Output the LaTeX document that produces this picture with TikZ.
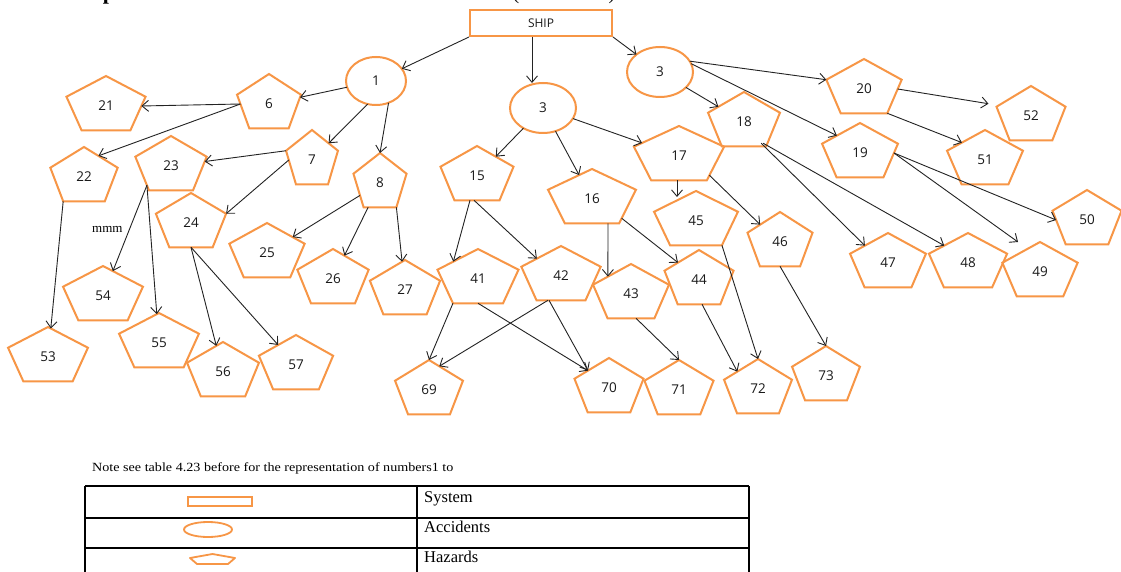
\documentclass[tikz,border=0pt]{standalone}
\usepackage{fontspec}
\setmainfont{Liberation Serif}
\newfontfamily\numfont{Open Sans}
\usetikzlibrary{shapes.geometric,arrows.meta,calc}
\definecolor{hzorange}{RGB}{247,150,70}
\definecolor{arrgray}{RGB}{35,35,35}
\tikzset{
  hz/.style={regular polygon, regular polygon sides=5, draw=hzorange, line width=2pt,
    minimum size=60pt, inner sep=0pt, outer sep=0pt, transform shape,
    font=\numfont\fontsize{13.5}{15}\selectfont, text=black!90},
  acc/.style={ellipse, draw=hzorange, line width=2pt, inner sep=0pt, outer sep=0pt,
    font=\numfont\fontsize{13.5}{15}\selectfont, text=black!90},
  sys/.style={rectangle, draw=hzorange, line width=2pt, minimum width=142pt, minimum height=26pt,
    inner sep=0pt, font=\numfont\fontsize{12}{14}\selectfont, text=black!90},
  arr/.style={draw=arrgray, line width=0.9pt, -{Straight Barb[length=6.5pt,width=11pt]}},
  legtxt/.style={anchor=base west, inner sep=0pt, font=\fontsize{16.5}{18}\selectfont},
  tabline/.style={draw=black, line width=1.2pt},
}
\newcommand\hzn[5]{\begin{scope}[shift={(#2,-#3)},xscale=#4]\node[hz] (#1) at (0,0) {\scalebox{\fpeval{round(1/#4,4)}}[1]{#5}};\end{scope}}
\begin{document}
\begin{tikzpicture}[x=1pt,y=1pt]
\useasboundingbox (0,0) rectangle (1121,-572);
\fill[white] (0,0) rectangle (1121,-572);
% cut-off heading fragments (only their lowest parts show, as in the reference)
\node[anchor=base, inner sep=0pt, font=\bfseries\fontsize{22}{24}\selectfont] (hp) at (109,0) {p};
\node[anchor=base, inner sep=0pt, font=\fontsize{20}{22}\selectfont] (hl) at (516,0) {(};
\node[anchor=base, inner sep=0pt, font=\fontsize{20}{22}\selectfont] (hr) at (612,0) {)};
% system and accidents
\node[sys] (ship) at (541,-23) {SHIP};
\node[acc, minimum width=60pt, minimum height=48pt] (a1) at (376,-81) {1};
\node[acc, minimum width=66pt, minimum height=50pt] (a3m) at (543,-108) {3};
\node[acc, minimum width=66pt, minimum height=50pt] (a3r) at (660,-72) {3};
% hazards
\hzn{n21}{106}{106}{1.386}{21}
\hzn{n6}{269}{104}{1.12}{6}
\hzn{n22}{84}{177}{1.18}{22}
\hzn{n23}{171}{166}{1.25}{23}
\hzn{n7}{312}{160}{0.91}{7}
\hzn{n8}{380}{183}{0.93}{8}
\hzn{n24}{191}{223}{1.23}{24}
\hzn{n25}{267}{253}{1.32}{25}
\hzn{n26}{333}{279}{1.25}{26}
\hzn{n27}{405}{290}{1.23}{27}
\hzn{n53}{48}{357}{1.40}{53}
\hzn{n54}{103}{296}{1.40}{54}
\hzn{n55}{159}{343}{1.40}{55}
\hzn{n56}{223}{372}{1.26}{56}
\hzn{n57}{296}{365}{1.30}{57}
\hzn{n15}{477}{176}{1.28}{15}
\hzn{n16}{592}{199}{1.54}{16}
\hzn{n17}{679}{156}{1.58}{17}
\hzn{n18}{744}{122}{1.26}{18}
\hzn{n45}{696}{221}{1.47}{45}
\hzn{n46}{780}{242}{1.14}{46}
\hzn{n41}{478}{279}{1.42}{41}
\hzn{n42}{561}{276}{1.39}{42}
\hzn{n43}{631}{294}{1.33}{43}
\hzn{n44}{699}{280}{1.21}{44}
\hzn{n69}{429}{390}{1.19}{69}
\hzn{n70}{609}{388}{1.21}{70}
\hzn{n71}{679}{390}{1.21}{71}
\hzn{n72}{758}{389}{1.19}{72}
\hzn{n73}{826}{376}{1.19}{73}
\hzn{n20}{864}{89}{1.32}{20}
\hzn{n52}{1031}{116}{1.21}{52}
\hzn{n19}{860}{153}{1.33}{19}
\hzn{n51}{985}{160}{1.33}{51}
\hzn{n50}{1087}{220}{1.21}{50}
\hzn{n47}{888}{263}{1.33}{47}
\hzn{n48}{968}{263}{1.37}{48}
\hzn{n49}{1040}{272}{1.32}{49}
\node[anchor=base west, inner sep=0pt, font=\fontsize{13}{15}\selectfont] (mmm) at (92,-233) {mmm};
% connectors
\draw[arr] (ship.south west) -- (a1);
\draw[arr] ([xshift=-9pt]ship.south) -- ([xshift=-11pt]a3m.north);
\draw[arr] (ship.south east) -- (a3r);
\draw[arr] (a1) -- (n6);
\draw[arr] (a1.250) -- (n7);
\draw[arr] (a1.300) -- (n8.corner 1);
\draw[arr] (n6.180) -- (n21.0);
\draw[arr] (n6.180) -- (n22.60);
\draw[arr] (n7.corner 2) -- (n23);
\draw[arr] (n7.180) -- (n24.corner 5);
\draw[arr] (n8) -- (n25);
\draw[arr] (n8) -- (n26);
\draw[arr] (n8.corner 4) -- (n27);
\draw[arr] (n22.corner 3) -- (n53);
\draw[arr] (n23.225) -- (n54);
\draw[arr] (n23.225) -- (n55);
\draw[arr] (n24.270) -- (n56);
\draw[arr] (n24.270) -- (n57);
\draw[arr] (a3m) -- (n15);
\draw[arr] (a3m) -- (n16);
\draw[arr] (a3m) -- (n17);
\draw[arr] ([xshift=-7pt]n15.270) -- (n41.135);
\draw[arr] ([xshift=-3pt]n15.270) -- (n42.135);
\draw[arr] ([xshift=16pt]n16.270) -- (n43.135);
\draw[arr] (n16.315) -- (n44.135);
\draw[arr] (n41.corner 3) -- (n69.corner 1);
\draw[arr] (n41.270) -- (n70.135);
\draw[arr] ([xshift=-13pt]n42.270) -- (n69.70);
\draw[arr] ([xshift=-12pt]n42.270) -- (n70.135);
\draw[arr] ([xshift=5pt]n43.270) -- (n71.corner 1);
\draw[arr] ([xshift=3pt]n44.270) -- (n72.135);
\draw[arr] (n45.corner 4) -- (n72.corner 1);
\draw[arr] (n46.270) -- (n73.corner 1);
\draw[arr] ([xshift=-2pt]n17.270) -- ([xshift=-19pt,yshift=-6pt]n45.corner 1);
\draw[arr] (n17.315) -- (n46.135);
\draw[arr] (a3r) -- (n18);
\draw[arr] (a3r.20) -- (n20.corner 2);
\draw[arr] (a3r.15) -- (n19.135);
\draw[arr] ([shift={(-5pt,3pt)}]n18.corner 4) -- (n47.135);
\draw[arr] ([shift={(-3pt,3pt)}]n18.corner 4) -- (n48.135);
\draw[arr] (n20.0) -- ([xshift=-8pt,yshift=3pt]n52.corner 2);
\draw[arr] (n20.corner 4) -- (n51.135);
\draw[arr] (n19.0) -- (n50.180);
\draw[arr] (n19.0) -- ([xshift=-22pt]n49.corner 1);
% legend
\node[anchor=base west, inner sep=0pt, font=\fontsize{12.5}{14}\selectfont] (note) at (92,-471)
  {\scalebox{1.13}[1]{Note see table 4.23 before for the representation of numbers1 to}};
\draw[tabline] (85,-486) -- (749,-486);
\draw[tabline] (85,-518) -- (749,-518);
\draw[tabline] (85,-548) -- (749,-548);
\draw[tabline] (85,-486) -- (85,-575);
\draw[tabline] (417,-486) -- (417,-575);
\draw[tabline] (749,-486) -- (749,-575);
\node[draw=hzorange, line width=1.8pt, minimum width=64pt, minimum height=9pt, inner sep=0pt] (legsys) at (220,-501.5) {};
\node[ellipse, draw=hzorange, line width=1.8pt, minimum width=48pt, minimum height=15pt, inner sep=0pt] (legacc) at (208,-529.5) {};
\draw[hzorange, line width=1.8pt, line join=round] (212.5,-554) -- (235,-558) -- (228,-564) -- (197,-564) -- (190,-558) -- cycle;
\node[legtxt] (tsys) at (424,-502) {System};
\node[legtxt] (tacc) at (424,-532) {Accidents};
\node[legtxt] (thaz) at (424,-562) {Hazards};
\end{tikzpicture}
\end{document}
